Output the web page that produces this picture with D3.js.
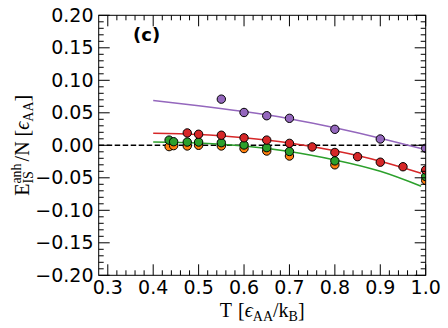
<!DOCTYPE html>
<html><head><meta charset="utf-8">
<script src="https://cdn.jsdelivr.net/npm/d3@7"></script>
<style>
html,body{margin:0;padding:0;background:#fff;}
svg{display:block;}
</style></head>
<body>
<svg id="chart" width="448" height="328"></svg>
<script>
// ---------- data ----------
const xTicks = [0.3,0.4,0.5,0.6,0.7,0.8,0.9,1.0];
const xTickLabels = ["0.3","0.4","0.5","0.6","0.7","0.8","0.9","1.0"];
const yTicks = [-0.20,-0.15,-0.10,-0.05,0.00,0.05,0.10,0.15,0.20];
const yTickLabels = ["\u22120.20","\u22120.15","\u22120.10","\u22120.05","0.00","0.05","0.10","0.15","0.20"];

const purpleT = [0.55,0.6,0.65,0.7,0.8,0.9,1.0];
const purpleE = [0.071,0.0505,0.0455,0.0415,0.0246,0.0097,-0.0046];

const redT = [0.475,0.5,0.55,0.6,0.65,0.7,0.75,0.8,0.85,0.9,0.95,1.0];
const redE = [0.019,0.017,0.0155,0.0115,0.008,0.003,-0.0025,-0.011,-0.0175,-0.026,-0.033,-0.038];

const greenT = [0.435,0.445,0.475,0.5,0.55,0.6,0.65,0.7,0.8,1.0];
const greenE = [0.008,0.0055,0.005,0.005,0.004,0.0005,-0.0036,-0.0095,-0.024,-0.048];

const orangeT = [0.435,0.445,0.475,0.5,0.55,0.6,0.65,0.7,0.8,1.0];
const orangeE = [-0.002,-0.0005,-0.001,0.0,-0.001,-0.005,-0.0088,-0.0165,-0.030,-0.054];

const fitT = [0.4,0.5,0.6,0.7,0.8,0.9,0.99];
const purpleFit = [0.069,0.061,0.052,0.041,0.027,0.011,-0.005];
const redFit = [0.0185,0.0165,0.0115,0.0035,-0.0085,-0.0245,-0.043];
const greenFit = [0.005,0.0035,-0.001,-0.0095,-0.0225,-0.040,-0.063];

// ---------- layout ----------
const L = 98.7, R = 425.7, T = 15.3, B = 275.3;
const x = d3.scaleLinear().domain([0.28,1.0]).range([L,R]);
const y = d3.scaleLinear().domain([-0.2,0.2]).range([B,T]);
const svg = d3.select("#chart");

svg.append("defs").append("clipPath").attr("id","clip")
  .append("rect").attr("x",L).attr("y",T).attr("width",R-L).attr("height",B-T);

const plot = svg.append("g").attr("clip-path","url(#clip)");

// zero line
plot.append("line").attr("x1",L).attr("x2",R).attr("y1",y(0)).attr("y2",y(0))
  .attr("stroke","#000").attr("stroke-width",1.5).attr("stroke-dasharray","5.5,2.5");

const line = d3.line().x(d=>x(d[0])).y(d=>y(d[1])).curve(d3.curveNatural);
const fits = [[purpleFit,"#9467bd"],[redFit,"#d62728"],[greenFit,"#2ca02c"]];
fits.forEach(([vals,c])=>{
  plot.append("path").datum(fitT.map((t,i)=>[t,vals[i]]))
    .attr("d",line).attr("fill","none").attr("stroke",c).attr("stroke-width",1.5);
});

const series = [[orangeT,orangeE,"#ff7f0e"],[greenT,greenE,"#2ca02c"],[redT,redE,"#d62728"],[purpleT,purpleE,"#9467bd"]];
series.forEach(([ts,es,c])=>{
  plot.append("g").selectAll("circle").data(ts.map((t,i)=>[t,es[i]])).join("circle")
    .attr("cx",d=>x(d[0])).attr("cy",d=>y(d[1])).attr("r",4.2)
    .attr("fill",c).attr("stroke","#000").attr("stroke-width",1);
});

// ---------- frame & ticks ----------
svg.append("rect").attr("x",L).attr("y",T).attr("width",R-L).attr("height",B-T)
  .attr("fill","none").attr("stroke","#000").attr("stroke-width",1);

const MAJ = 11, MIN = 5;
const tickG = svg.append("g").attr("stroke","#000").attr("stroke-width",1);
const xMinor = d3.range(0, 36).map(i=>+(0.30 + i*0.02).toFixed(2)).filter(v=>v<=1.0 && !xTicks.some(t=>Math.abs(t-v)<1e-6));
const yMinor = d3.range(0, 41).map(i=>+(-0.20 + i*0.01).toFixed(2)).filter(v=>!yTicks.some(t=>Math.abs(t-v)<1e-6));
xTicks.forEach(v=>{
  tickG.append("line").attr("x1",x(v)).attr("x2",x(v)).attr("y1",B).attr("y2",B-MAJ);
  tickG.append("line").attr("x1",x(v)).attr("x2",x(v)).attr("y1",T).attr("y2",T+MAJ);
});
xMinor.forEach(v=>{
  tickG.append("line").attr("x1",x(v)).attr("x2",x(v)).attr("y1",B).attr("y2",B-MIN);
  tickG.append("line").attr("x1",x(v)).attr("x2",x(v)).attr("y1",T).attr("y2",T+MIN);
});
yTicks.forEach(v=>{
  tickG.append("line").attr("y1",y(v)).attr("y2",y(v)).attr("x1",L).attr("x2",L+MAJ);
  tickG.append("line").attr("y1",y(v)).attr("y2",y(v)).attr("x1",R).attr("x2",R-MAJ);
});
yMinor.forEach(v=>{
  tickG.append("line").attr("y1",y(v)).attr("y2",y(v)).attr("x1",L).attr("x2",L+MIN);
  tickG.append("line").attr("y1",y(v)).attr("y2",y(v)).attr("x1",R).attr("x2",R-MIN);
});

// tick labels
const tf = "'DejaVu Sans', sans-serif";
svg.append("g").selectAll("text").data(xTicks).join("text")
  .attr("x",d=>x(d)).attr("y",294).attr("text-anchor","middle")
  .attr("font-family",tf).attr("font-size",19).attr("fill","#000")
  .text((d,i)=>xTickLabels[i]);
svg.append("g").selectAll("text").data(yTicks).join("text")
  .attr("x",93.5).attr("y",d=>y(d)+6.5).attr("text-anchor","end")
  .attr("font-family",tf).attr("font-size",19).attr("fill","#000")
  .text((d,i)=>yTickLabels[i]);

// panel label
svg.append("text").attr("x",133).attr("y",41).attr("font-family",tf)
  .attr("font-weight","bold").attr("font-size",18).text("(c)");

// ---------- math-like titles ----------
const mf = "'Liberation Serif', 'DejaVu Serif', serif";
function mathText(g, pieces){
  let cur = 0;
  pieces.forEach(p=>{
    if(p.gap){ cur += p.gap; return; }
    if(p.stack){
      let w = 0;
      p.stack.forEach(s=>{
        const t = g.append("text").attr("x",cur).attr("y",s.dy||0)
          .attr("font-family",mf).attr("font-size",s.fs)
          .attr("font-style",s.it?"italic":"normal").text(s.t);
        w = Math.max(w, t.node().getComputedTextLength());
      });
      cur += w; return;
    }
    const t = g.append("text").attr("x",cur).attr("y",p.dy||0)
      .attr("font-family",mf).attr("font-size",p.fs)
      .attr("font-style",p.it?"italic":"normal").text(p.t);
    cur += t.node().getComputedTextLength();
  });
  g.selectAll("text").attr("x",function(){return +d3.select(this).attr("x") - cur/2;});
  return cur;
}
const FS = 20, SS = 14;
const xt = svg.append("g").attr("transform",`translate(${(L+R)/2},316.5)`);
mathText(xt, [
  {t:"T",fs:FS},{gap:6},{t:"[",fs:FS},{t:"\u03f5",fs:FS,it:true},{t:"AA",fs:SS,dy:4},
  {t:"/",fs:FS},{t:"k",fs:FS},{t:"B",fs:SS,dy:4},{t:"]",fs:FS}
]);
const yt = svg.append("g").attr("transform",`translate(28.5,${(T+B)/2}) rotate(-90)`);
mathText(yt, [
  {t:"E",fs:FS},{stack:[{t:"anh",fs:SS,dy:-8},{t:"IS",fs:SS,dy:4}]},{gap:2},
  {t:"/N",fs:FS},{gap:5},{t:"[",fs:FS},{t:"\u03f5",fs:FS,it:true},{t:"AA",fs:SS,dy:4},{t:"]",fs:FS}
]);
</script>
</body></html>
